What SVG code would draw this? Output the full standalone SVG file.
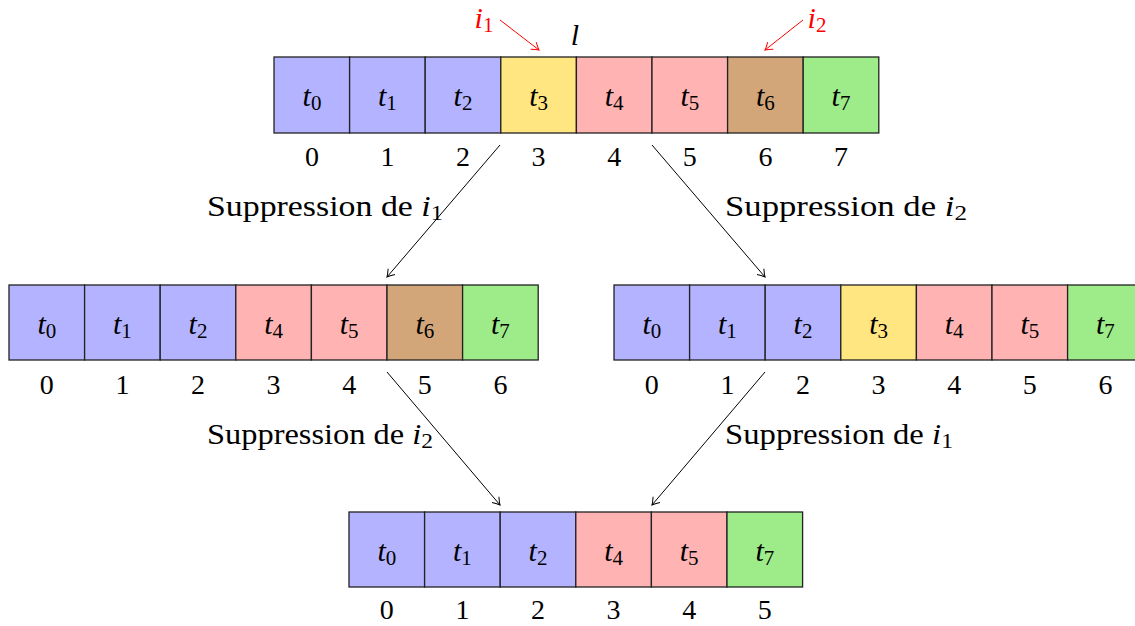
<svg xmlns="http://www.w3.org/2000/svg" width="1135" height="626" viewBox="0 0 1135 626">
<style>
.c{stroke:#222;stroke-width:1.3}
.b{fill:#B3B3FF}.y{fill:#FFE680}.r{fill:#FFB3B3}.br{fill:#D2A679}.g{fill:#9EEB8A}
.t{font-family:"Liberation Serif",serif;font-size:30px;font-style:italic;text-anchor:middle;fill:#000}
.s{font-size:21px;font-style:normal}
.n{font-family:"Liberation Serif",serif;font-size:28px;text-anchor:middle;fill:#000}
.lab{font-family:"Liberation Serif",serif;font-size:29px;fill:#000}
.red{fill:#FF0000}
.ar{stroke:#000;stroke-width:1;fill:none}
.arr{stroke:#FF0000;stroke-width:1;fill:none}
</style>
<defs>
<marker id="hk" markerWidth="12" markerHeight="12" refX="0" refY="0" viewBox="-8 -6 10 12" orient="auto" markerUnits="userSpaceOnUse">
<path d="M -7,-4.5 Q -2.5,-1.2 0,0 Q -2.5,1.2 -7,4.5" fill="none" stroke="#000" stroke-width="1"/>
</marker>
<marker id="hr" markerWidth="12" markerHeight="12" refX="0" refY="0" viewBox="-8 -6 10 12" orient="auto" markerUnits="userSpaceOnUse">
<path d="M -7,-4.5 Q -2.5,-1.2 0,0 Q -2.5,1.2 -7,4.5" fill="none" stroke="#FF0000" stroke-width="1"/>
</marker>
</defs>

<g id="top-array">
<rect class="c b" x="274" y="57" width="75.6" height="76"/>
<rect class="c b" x="349.6" y="57" width="75.6" height="76"/>
<rect class="c b" x="425.2" y="57" width="75.6" height="76"/>
<rect class="c y" x="500.8" y="57" width="75.6" height="76"/>
<rect class="c r" x="576.4" y="57" width="75.6" height="76"/>
<rect class="c r" x="652" y="57" width="75.6" height="76"/>
<rect class="c br" x="727.6" y="57" width="75.6" height="76"/>
<rect class="c g" x="803.2" y="57" width="75.6" height="76"/>
<text class="t" x="312" y="106">t<tspan class="s" dy="4">0</tspan></text>
<text class="t" x="387.4" y="106">t<tspan class="s" dy="4">1</tspan></text>
<text class="t" x="463" y="106">t<tspan class="s" dy="4">2</tspan></text>
<text class="t" x="538.6" y="106">t<tspan class="s" dy="4">3</tspan></text>
<text class="t" x="614.2" y="106">t<tspan class="s" dy="4">4</tspan></text>
<text class="t" x="689.8" y="106">t<tspan class="s" dy="4">5</tspan></text>
<text class="t" x="765.4" y="106">t<tspan class="s" dy="4">6</tspan></text>
<text class="t" x="841" y="106">t<tspan class="s" dy="4">7</tspan></text>
<text class="n" x="312" y="166">0</text>
<text class="n" x="387.4" y="166">1</text>
<text class="n" x="463" y="166">2</text>
<text class="n" x="538.6" y="166">3</text>
<text class="n" x="614.2" y="166">4</text>
<text class="n" x="689.8" y="166">5</text>
<text class="n" x="765.4" y="166">6</text>
<text class="n" x="841" y="166">7</text>
<text class="t" x="575" y="45">l</text>
</g>

<g id="pointer-i1">
<text class="t red" x="484" y="28">i<tspan class="s" dy="4">1</tspan></text>
</g>
<g id="pointer-i2">
<text class="t red" x="817" y="28">i<tspan class="s" dy="4">2</tspan></text>
</g>

<g id="left-array">
<rect class="c b" x="9" y="285" width="75.6" height="75"/>
<rect class="c b" x="84.6" y="285" width="75.6" height="75"/>
<rect class="c b" x="160.2" y="285" width="75.6" height="75"/>
<rect class="c r" x="235.8" y="285" width="75.6" height="75"/>
<rect class="c r" x="311.4" y="285" width="75.6" height="75"/>
<rect class="c br" x="387" y="285" width="75.6" height="75"/>
<rect class="c g" x="462.6" y="285" width="75.6" height="75"/>
<text class="t" x="46.8" y="334">t<tspan class="s" dy="4">0</tspan></text>
<text class="t" x="122.4" y="334">t<tspan class="s" dy="4">1</tspan></text>
<text class="t" x="198" y="334">t<tspan class="s" dy="4">2</tspan></text>
<text class="t" x="273.6" y="334">t<tspan class="s" dy="4">4</tspan></text>
<text class="t" x="349.2" y="334">t<tspan class="s" dy="4">5</tspan></text>
<text class="t" x="424.8" y="334">t<tspan class="s" dy="4">6</tspan></text>
<text class="t" x="500.4" y="334">t<tspan class="s" dy="4">7</tspan></text>
<text class="n" x="46.8" y="394">0</text>
<text class="n" x="122.4" y="394">1</text>
<text class="n" x="198" y="394">2</text>
<text class="n" x="273.6" y="394">3</text>
<text class="n" x="349.2" y="394">4</text>
<text class="n" x="424.8" y="394">5</text>
<text class="n" x="500.4" y="394">6</text>
</g>

<g id="right-array">
<rect class="c b" x="614" y="285" width="75.6" height="75"/>
<rect class="c b" x="689.6" y="285" width="75.6" height="75"/>
<rect class="c b" x="765.2" y="285" width="75.6" height="75"/>
<rect class="c y" x="840.8" y="285" width="75.6" height="75"/>
<rect class="c r" x="916.4" y="285" width="75.6" height="75"/>
<rect class="c r" x="992" y="285" width="75.6" height="75"/>
<rect class="c g" x="1067.6" y="285" width="75.6" height="75"/>
<text class="t" x="651.8" y="334">t<tspan class="s" dy="4">0</tspan></text>
<text class="t" x="727.4" y="334">t<tspan class="s" dy="4">1</tspan></text>
<text class="t" x="803" y="334">t<tspan class="s" dy="4">2</tspan></text>
<text class="t" x="878.6" y="334">t<tspan class="s" dy="4">3</tspan></text>
<text class="t" x="954.2" y="334">t<tspan class="s" dy="4">4</tspan></text>
<text class="t" x="1029.8" y="334">t<tspan class="s" dy="4">5</tspan></text>
<text class="t" x="1105.4" y="334">t<tspan class="s" dy="4">7</tspan></text>
<text class="n" x="651.8" y="394">0</text>
<text class="n" x="727.4" y="394">1</text>
<text class="n" x="803" y="394">2</text>
<text class="n" x="878.6" y="394">3</text>
<text class="n" x="954.2" y="394">4</text>
<text class="n" x="1029.8" y="394">5</text>
<text class="n" x="1105.4" y="394">6</text>
</g>

<g id="bottom-array">
<rect class="c b" x="349" y="512" width="75.6" height="75"/>
<rect class="c b" x="424.6" y="512" width="75.6" height="75"/>
<rect class="c b" x="500.2" y="512" width="75.6" height="75"/>
<rect class="c r" x="575.8" y="512" width="75.6" height="75"/>
<rect class="c r" x="651.4" y="512" width="75.6" height="75"/>
<rect class="c g" x="727" y="512" width="75.6" height="75"/>
<text class="t" x="386.8" y="561">t<tspan class="s" dy="4">0</tspan></text>
<text class="t" x="462.4" y="561">t<tspan class="s" dy="4">1</tspan></text>
<text class="t" x="538" y="561">t<tspan class="s" dy="4">2</tspan></text>
<text class="t" x="613.6" y="561">t<tspan class="s" dy="4">4</tspan></text>
<text class="t" x="689.2" y="561">t<tspan class="s" dy="4">5</tspan></text>
<text class="t" x="764.8" y="561">t<tspan class="s" dy="4">7</tspan></text>
<text class="n" x="386.8" y="619">0</text>
<text class="n" x="462.4" y="619">1</text>
<text class="n" x="538" y="619">2</text>
<text class="n" x="613.6" y="619">3</text>
<text class="n" x="689.2" y="619">4</text>
<text class="n" x="764.8" y="619">5</text>
</g>

<g id="connectors">
<line class="arr" x1="500" y1="20" x2="539" y2="50" marker-end="url(#hr)"/>
<line class="arr" x1="803" y1="20" x2="765" y2="50" marker-end="url(#hr)"/>
<line class="ar" x1="500" y1="145" x2="387" y2="277" marker-end="url(#hk)"/>
<line class="ar" x1="652" y1="145" x2="765" y2="277" marker-end="url(#hk)"/>
<line class="ar" x1="387" y1="372" x2="500" y2="505" marker-end="url(#hk)"/>
<line class="ar" x1="765" y1="372" x2="652" y2="505" marker-end="url(#hk)"/>
<text class="lab" x="207" y="216" textLength="236" lengthAdjust="spacingAndGlyphs">Suppression de <tspan font-style="italic">i</tspan><tspan font-size="21" dy="4">1</tspan></text>
<text class="lab" x="725" y="216" textLength="242" lengthAdjust="spacingAndGlyphs">Suppression de <tspan font-style="italic">i</tspan><tspan font-size="21" dy="4">2</tspan></text>
<text class="lab" x="207" y="444" textLength="226" lengthAdjust="spacingAndGlyphs">Suppression de <tspan font-style="italic">i</tspan><tspan font-size="21" dy="4">2</tspan></text>
<text class="lab" x="725" y="444" textLength="228" lengthAdjust="spacingAndGlyphs">Suppression de <tspan font-style="italic">i</tspan><tspan font-size="21" dy="4">1</tspan></text>
</g>
</svg>
